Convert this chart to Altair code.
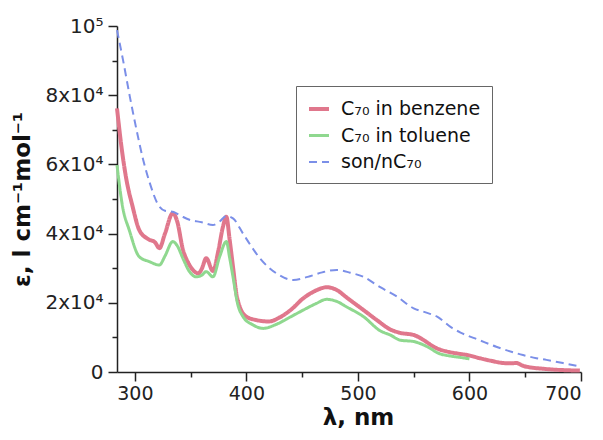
import altair as alt
import pandas as pd

# ---- data ----
benzene_nm = [284, 288, 292, 298, 304, 312, 318, 322, 327, 334, 338, 343, 348, 352, 357,
              360, 364, 370, 375, 379, 382, 385, 388, 391, 394, 400, 409, 420, 430, 440,
              451, 462, 472, 481, 490, 505, 517, 529, 538, 550, 559, 565, 571, 580, 590,
              598, 609, 620, 630, 637, 642, 648, 655, 664, 675, 688, 699]
benzene_eps = [76200, 65100, 56400, 47800, 41000, 38400, 37500, 35800, 40000, 45900, 43500,
               35500, 31500, 29500, 28500, 29800, 32900, 29200, 35300, 42000, 44900, 38200,
               30400, 22700, 18900, 16000, 15000, 14600, 15800, 18000, 21300, 23500, 24500,
               23700, 21500, 17900, 15000, 12300, 11300, 10700, 9200, 7900, 6800, 5900,
               5300, 4900, 4000, 3200, 2600, 2500, 2600, 1800, 1300, 1000, 700, 500, 400]

toluene_nm = [284, 289, 295, 304, 313, 322, 327, 334, 338, 343, 349, 355, 360, 364, 370,
              376, 382, 385, 388, 392, 397, 406, 415, 427, 440, 451, 462, 472, 481, 490,
              505, 520, 529, 538, 550, 559, 565, 571, 583, 592, 600]
toluene_eps = [59800, 47800, 41000, 33300, 31900, 30900, 33500, 37700, 36500, 32900, 29000,
               27500, 28000, 29000, 27500, 33300, 37700, 33000, 27500, 19900, 16000, 13600,
               12600, 13800, 16000, 17900, 19700, 21000, 20400, 18800, 16000, 11900, 10700,
               9200, 8800, 7800, 6800, 5600, 4600, 4200, 3800]

son_nm = [284, 289.5, 295.5, 301.5, 307.5, 313.5, 321, 327, 334, 342, 349, 360, 370, 376,
          382, 388, 397, 404, 412, 427, 442, 455, 468, 481, 493, 505, 520, 535, 550, 560,
          571, 584, 592, 609, 624, 648, 660, 669, 685, 700]
son_eps = [98800, 90000, 79600, 70000, 61300, 54500, 48300, 46600, 46300, 45000, 44000,
           43300, 42500, 43500, 45100, 44400, 40000, 36500, 32900, 28500, 26600, 27500,
           28800, 29500, 28700, 27500, 24500, 21800, 18400, 17300, 16000, 12800, 11400,
           9200, 7300, 4900, 4000, 3500, 2500, 1500]

series_names = ["C₇₀ in benzene", "C₇₀ in toluene", "son/nC₇₀"]
series_colors = ["#E0778C", "#8FD88F", "#7B8FE8"]

x_ticks = list(range(300, 701, 50))
y_ticks = list(range(0, 100001, 10000))

rows = []
for name, xs, ys in zip(series_names,
                        [benzene_nm, toluene_nm, son_nm],
                        [benzene_eps, toluene_eps, son_eps]):
    rows += [{"series": name, "nm": x, "eps": y} for x, y in zip(xs, ys)]
df = pd.DataFrame(rows)

leg = alt.Legend(title=None, orient="none", legendX=179, legendY=60,
                 fillColor="white", strokeColor="#666666", padding=11,
                 labelFontSize=19, labelFont="DejaVu Sans", labelColor="#111111",
                 symbolType="stroke", symbolSize=400, rowPadding=5, labelOffset=10)

chart = alt.Chart(df).mark_line(interpolate="monotone").encode(
    x=alt.X("nm:Q",
            scale=alt.Scale(domain=[284, 700], nice=False, zero=False),
            axis=alt.Axis(values=x_ticks, title="λ, nm", grid=False,
                          tickSize={"condition": {"test": "datum.value % 100 != 0", "value": 5}, "value": 9},
                          labelExpr="datum.value % 100 == 0 ? datum.label : ''",
                          labelFontSize=19, labelPadding=3, titlePadding=3,
                          titleFontSize=23, titleX=241)),
    y=alt.Y("eps:Q",
            scale=alt.Scale(domain=[0, 100000], nice=False),
            axis=alt.Axis(values=y_ticks, title="ε, l cm⁻¹mol⁻¹", grid=False,
                          tickSize={"condition": {"test": "datum.value % 20000 != 0", "value": 5}, "value": 9},
                          labelExpr="datum.value == 0 ? '0' : datum.value == 100000 ? '10⁵' : datum.value % 20000 == 0 ? (datum.value / 10000) + 'x10⁴' : ''",
                          labelPadding=5, titlePadding=10, titleFontSize=23)),
    color=alt.Color("series:N", scale=alt.Scale(domain=series_names, range=series_colors), legend=leg),
    strokeDash=alt.StrokeDash("series:N", scale=alt.Scale(domain=series_names, range=[[1, 0], [1, 0], [8, 5]]), legend=leg),
    strokeWidth=alt.StrokeWidth("series:N", scale=alt.Scale(domain=series_names, range=[4, 2, 2]), legend=leg),
).properties(
    width=464, height=346, autosize="none",
    padding={"left": 109, "top": 18, "right": 10, "bottom": 60},
).configure(font="DejaVu Sans").configure_view(stroke=None).configure_axis(
    labelFont="DejaVu Sans", labelFontSize=20, labelColor="#222222",
    titleFont="DejaVu Sans", titleFontSize=24, titleFontWeight="bold", titleColor="#111111",
    domainColor="#222222", domainWidth=1.5, tickColor="#222222", tickWidth=1.5,
)

chart.save("out.html", embed_options={"renderer": "svg", "actions": False})
